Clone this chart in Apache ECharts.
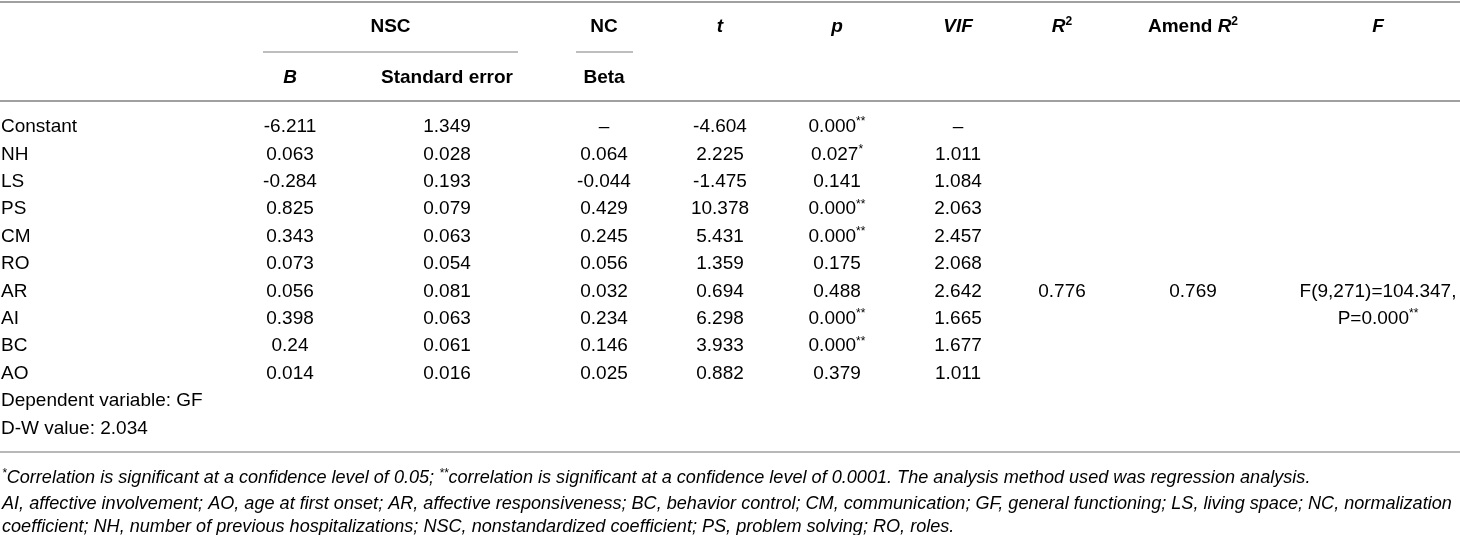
<!DOCTYPE html>
<html>
<head>
<meta charset="utf-8">
<script src="https://cdn.jsdelivr.net/npm/echarts@6/dist/echarts.min.js"></script>
<style>html,body{margin:0;padding:0;background:#fff;}#c{width:1460px;height:535px;}</style>
</head>
<body>
<div id="c"></div>
<script>
// ---- data ----
var rowLabels = ['Constant','NH','LS','PS','CM','RO','AR','AI','BC','AO'];
var colB    = ['-6.211','0.063','-0.284','0.825','0.343','0.073','0.056','0.398','0.24','0.014'];
var colSE   = ['1.349','0.028','0.193','0.079','0.063','0.054','0.081','0.063','0.061','0.016'];
var colBeta = ['–','0.064','-0.044','0.429','0.245','0.056','0.032','0.234','0.146','0.025'];
var colT    = ['-4.604','2.225','-1.475','10.378','5.431','1.359','0.694','6.298','3.933','0.882'];
var colP    = ['0.000**','0.027*','0.141','0.000**','0.000**','0.175','0.488','0.000**','0.000**','0.379'];
var colVIF  = ['–','1.011','1.084','2.063','2.457','2.068','2.642','1.665','1.677','1.011'];
var rSquare = '0.776';
var amendRSquare = '0.769';
var fStat = ['F(9,271)=104.347,', 'P=0.000**'];
var extraRows = ['Dependent variable: GF', 'D-W value: 2.034'];
var footnotes = [
  '*Correlation is significant at a confidence level of 0.05; **correlation is significant at a confidence level of 0.0001. The analysis method used was regression analysis.',
  'AI, affective involvement; AO, age at first onset; AR, affective responsiveness; BC, behavior control; CM, communication; GF, general functioning; LS, living space; NC, normalization',
  'coefficient; NH, number of previous hospitalizations; NSC, nonstandardized coefficient; PS, problem solving; RO, roles.'
];

// ---- layout ----
var FONT = 'Liberation Sans, Arial, sans-serif';
var FS = 19, FN = 18.1;
var TXT = '#333333';
var colX = {B:290, SE:447, Beta:604, t:720, p:837, VIF:958, R2:1062, AR2:1193, F:1378};
var row0 = 127, rowH = 27.4;
var hdr1 = 27, hdr2 = 78;

function rich(str){
  var m = str.match(/^(.*?)(\*+)$/);
  if (m) return '{n|' + m[1] + '}{s|' + m[2] + '}';
  return '{n|' + str + '}';
}
var richStyles = {
  n:{fontSize:FS, fontFamily:FONT, color:TXT, lineHeight:22},
  s:{fontSize:12, fontFamily:FONT, color:TXT, lineHeight:12, verticalAlign:'top'},
  b:{fontSize:FS, fontFamily:FONT, color:'#1e1e1e', fontWeight:'bold', lineHeight:22},
  bi:{fontSize:FS, fontFamily:FONT, color:'#1e1e1e', fontWeight:'bold', fontStyle:'italic', lineHeight:22},
  sup:{fontSize:12, fontFamily:FONT, color:'#1e1e1e', fontWeight:'bold', lineHeight:12, verticalAlign:'top'},
  fi:{fontSize:FN, fontFamily:FONT, color:TXT, fontStyle:'italic', lineHeight:21},
  fs:{fontSize:12, fontFamily:FONT, color:TXT, fontStyle:'italic', lineHeight:12, verticalAlign:'top'}
};

var g = [];
function text(x, y, t, align){
  g.push({type:'text', x:x, y:y, silent:true, style:{text:t, rich:richStyles, align:align||'center', verticalAlign:'middle'}});
}
function line(x1, y1, x2, y2, w, c){
  g.push({type:'line', silent:true, shape:{x1:x1,y1:y1,x2:x2,y2:y2}, style:{stroke:c||'#9a9a9a', lineWidth:w||1.5}});
}

// rules
line(0, 2, 1460, 2, 2, '#a0a0a0');
line(263, 52, 518, 52, 1.3, '#a8a8a8');
line(576, 52, 633, 52, 1.3, '#a8a8a8');
line(0, 101, 1460, 101, 2, '#a0a0a0');
line(0, 452, 1460, 452, 1.5, '#a0a0a0');

// headers
text((263+518)/2, hdr1, '{b|NSC}');
text(colX.Beta, hdr1, '{b|NC}');
text(colX.t, hdr1, '{bi|t}');
text(colX.p, hdr1, '{bi|p}');
text(colX.VIF, hdr1, '{bi|VIF}');
text(colX.R2, hdr1, '{bi|R}{sup|2}');
text(colX.AR2, hdr1, '{b|Amend }{bi|R}{sup|2}');
text(colX.F, hdr1, '{bi|F}');
text(colX.B, hdr2, '{bi|B}');
text(colX.SE, hdr2, '{b|Standard error}');
text(colX.Beta, hdr2, '{b|Beta}');

// body
rowLabels.forEach(function(lab, i){
  var y = row0 + i*rowH;
  text(1, y, rich(lab), 'left');
  text(colX.B, y, rich(colB[i]));
  text(colX.SE, y, rich(colSE[i]));
  text(colX.Beta, y, rich(colBeta[i]));
  text(colX.t, y, rich(colT[i]));
  text(colX.p, y, rich(colP[i]));
  text(colX.VIF, y, rich(colVIF[i]));
});
var arIdx = rowLabels.indexOf('AR');
text(colX.R2, row0 + arIdx*rowH, rich(rSquare));
text(colX.AR2, row0 + arIdx*rowH, rich(amendRSquare));
text(colX.F, row0 + arIdx*rowH, rich(fStat[0]));
text(colX.F, row0 + (arIdx+1)*rowH, rich(fStat[1]));
extraRows.forEach(function(t, j){
  text(1, row0 + (rowLabels.length + j)*rowH, rich(t), 'left');
});

// footnotes
var footY = [478, 504, 527];
footnotes.forEach(function(f, i){
  var s = f.replace(/(\*+)/g, '\u0001$1\u0002');
  var parts = s.split(/[\u0001\u0002]/);
  var out = '';
  parts.forEach(function(p){
    if (!p) return;
    if (/^\*+$/.test(p)) out += '{fs|' + p + '}';
    else out += '{fi|' + p + '}';
  });
  text(2, footY[i], out, 'left');
});

var chart = echarts.init(document.getElementById('c'), null, {renderer:'canvas'});
chart.setOption({backgroundColor:'#ffffff', animation:false, graphic:g});
</script>
</body>
</html>
